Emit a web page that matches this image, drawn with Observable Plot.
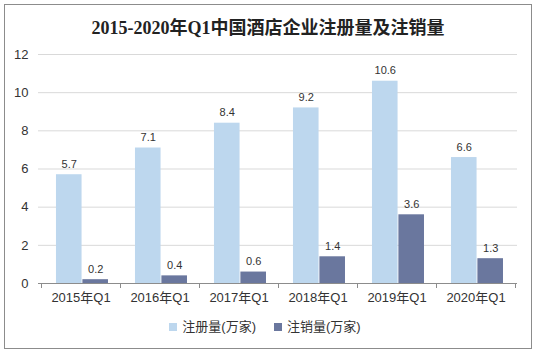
<!DOCTYPE html>
<html><head><meta charset="utf-8">
<script src="https://cdn.jsdelivr.net/npm/d3@7"></script>
<script src="https://cdn.jsdelivr.net/npm/@observablehq/plot@0.6"></script>
<style>
html,body{margin:0;padding:0;background:#fff;}
#wrap{position:relative;width:536px;height:353px;overflow:hidden;font-family:"Liberation Sans","Noto Sans CJK SC",sans-serif;}
#frame{position:absolute;left:4px;top:4px;width:526px;height:343px;border:1px solid #8c8c8c;}
#title{position:absolute;left:0;top:16px;width:536px;text-align:center;font-family:"Liberation Serif","Noto Sans CJK SC",serif;font-weight:bold;font-size:18px;color:#222;line-height:24px;}
#chart{position:absolute;left:0;top:40px;}
#legend{position:absolute;left:0;top:318px;width:530px;display:flex;justify-content:center;gap:18px;font-size:13px;color:#333;line-height:18px;}
#legend span.sw{display:inline-block;width:8px;height:8px;margin-right:5px;vertical-align:middle;position:relative;top:-1px;}
</style></head>
<body><div id="wrap"><div id="frame"></div><div id="title"></div><div id="chart"></div><div id="legend"></div></div>
<script>
const titleText = "2015-2020年Q1中国酒店企业注册量及注销量";
const categories = ["2015年Q1","2016年Q1","2017年Q1","2018年Q1","2019年Q1","2020年Q1"];
const registered = [5.7, 7.1, 8.4, 9.2, 10.6, 6.6];
const cancelled = [0.2, 0.4, 0.6, 1.4, 3.6, 1.3];
const seriesNames = ["注册量(万家)", "注销量(万家)"];
const yTicks = [0, 2, 4, 6, 8, 10, 12];
const colors = ["#BDD7EE", "#6A779E"];

document.getElementById("title").textContent = titleText;

const regData = categories.map((c, i) => ({cat: c, value: registered[i]}));
const canData = categories.map((c, i) => ({cat: c, value: cancelled[i]}));

const W = 536, H = 270, ML = 38, MR = 19, MT = 14, MB = 27;
const step = (W - ML - MR) / categories.length;
const barW = step * 0.331;
const padL = step * 0.1875;
const lightL = padL, lightR = step - padL - barW;
const darkL = padL + barW, darkR = step - padL - 2 * barW;
const lightDx = padL + barW / 2 - step / 2;
const darkDx = padL + barW * 1.5 - step / 2;

const boundaryTicks = (index, scales, values, dims) => {
  const x = scales.x, y = scales.y;
  const g = d3.create("svg:g").attr("stroke", "#8c8c8c").attr("stroke-width", 1);
  const y0 = y(0);
  const edges = categories.map(c => x(c)).concat([x(categories[categories.length - 1]) + x.bandwidth()]);
  edges.forEach(e => g.append("line").attr("x1", Math.round(e) + 0.5).attr("x2", Math.round(e) + 0.5).attr("y1", y0).attr("y2", y0 + 5));
  g.append("line").attr("x1", dims.marginLeft).attr("x2", dims.width - dims.marginRight).attr("y1", Math.round(y0) + 0.5).attr("y2", Math.round(y0) + 0.5);
  return g.node();
};

const chart = Plot.plot({
  width: W, height: H,
  marginLeft: ML, marginRight: MR, marginTop: MT, marginBottom: MB,
  style: {fontFamily: "'Liberation Sans','Noto Sans CJK SC',sans-serif", fontSize: "12px", color: "#333", background: "transparent"},
  x: {domain: categories, padding: 0, label: null},
  y: {domain: [0, 12], label: null},
  marks: [
    Plot.gridY(yTicks, {stroke: "#d9d9d9", strokeOpacity: 1}),
    Plot.axisY(yTicks, {tickSize: 0, tickPadding: 10, fontSize: 13, label: null}),
    Plot.axisX({tickSize: 0, tickPadding: 9, fontSize: 13, label: null}),
    Plot.barY(regData, {x: "cat", y: "value", fill: colors[0], insetLeft: lightL, insetRight: lightR}),
    Plot.barY(canData, {x: "cat", y: "value", fill: colors[1], insetLeft: darkL, insetRight: darkR}),
    boundaryTicks,
    Plot.text(regData, {x: "cat", y: "value", text: d => d.value.toFixed(1), dx: lightDx, dy: -7, lineAnchor: "bottom", fontSize: 11, fill: "#333"}),
    Plot.text(canData, {x: "cat", y: "value", text: d => d.value.toFixed(1), dx: darkDx, dy: -7, lineAnchor: "bottom", fontSize: 11, fill: "#333"})
  ]
});
document.getElementById("chart").appendChild(chart);

const legend = document.getElementById("legend");
seriesNames.forEach((n, i) => {
  const item = document.createElement("div");
  const sw = document.createElement("span");
  sw.className = "sw"; sw.style.background = colors[i];
  item.appendChild(sw);
  item.appendChild(document.createTextNode(n));
  legend.appendChild(item);
});
</script></body></html>
